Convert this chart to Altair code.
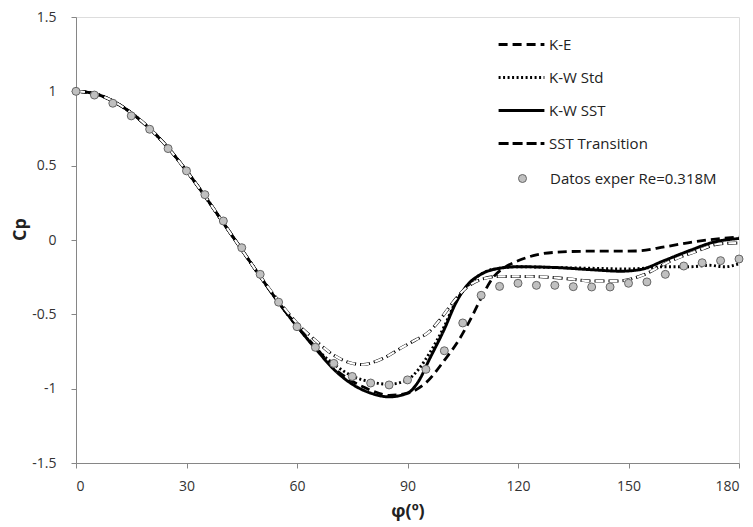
import altair as alt
import pandas as pd

# ---- data ----
exp_phi = list(range(0, 181, 5))
exp_cp = [1.0, 0.975, 0.92, 0.835, 0.745, 0.615, 0.465, 0.305, 0.128, -0.052,
          -0.231, -0.418, -0.583, -0.722, -0.83, -0.918, -0.962, -0.975, -0.941, -0.87,
          -0.745, -0.558, -0.372, -0.312, -0.291, -0.305, -0.305, -0.314, -0.316, -0.316,
          -0.291, -0.282, -0.231, -0.175, -0.153, -0.139, -0.128]

common_phi = [0, 5, 10, 15, 20, 25, 30, 35, 40, 45, 50]
common_cp = [1.0, 0.985, 0.935, 0.855, 0.75, 0.62, 0.465, 0.295, 0.115, -0.065, -0.245]

ke_phi = common_phi + [55, 60, 65, 70, 75, 80, 85, 90, 95, 100, 104, 108, 110, 113, 117,
                       120, 125, 132, 140, 152, 160, 168, 175, 180]
ke_cp = common_cp + [-0.42, -0.58, -0.72, -0.86, -0.95, -1.01, -1.045, -1.03, -0.96, -0.81,
                     -0.67, -0.49, -0.39, -0.26, -0.175, -0.14, -0.1, -0.08, -0.075, -0.074,
                     -0.045, -0.011, 0.01, 0.02]

kwstd_phi = common_phi + [55, 60, 65, 70, 75, 80, 85, 90, 93, 96, 100, 103, 107, 111, 115,
                          120, 130, 140, 150, 160, 167, 172, 176, 180]
kwstd_cp = common_cp + [-0.42, -0.58, -0.725, -0.835, -0.915, -0.955, -0.97, -0.94, -0.87,
                        -0.76, -0.58, -0.42, -0.29, -0.215, -0.19, -0.18, -0.185, -0.19,
                        -0.195, -0.18, -0.18, -0.17, -0.18, -0.16]

kwsst_phi = common_phi + [55, 60, 65, 70, 75, 80, 85, 90, 93, 96, 100, 103, 106, 110, 115,
                          120, 130, 140, 148, 153, 160, 167, 173, 180]
kwsst_cp = common_cp + [-0.42, -0.58, -0.73, -0.87, -0.97, -1.03, -1.055, -1.03, -0.95,
                        -0.8, -0.6, -0.43, -0.31, -0.23, -0.19, -0.18, -0.185, -0.2, -0.21,
                        -0.2, -0.135, -0.067, -0.015, 0.01]

ssttr_phi = common_phi + [55, 60, 65, 70, 75, 78, 81, 85, 88, 92, 96, 99, 102, 106, 110,
                          115, 120, 126, 134, 140, 147, 154, 161, 168, 175, 180]
ssttr_cp = common_cp + [-0.41, -0.56, -0.675, -0.775, -0.83, -0.838, -0.82, -0.775, -0.73,
                        -0.675, -0.615, -0.53, -0.43, -0.32, -0.265, -0.245, -0.245, -0.247,
                        -0.262, -0.276, -0.276, -0.235, -0.146, -0.08, -0.025, -0.02]

series_names = ["K-E", "K-W Std", "K-W SST", "SST Transition"]
exp_name = "Datos exper Re=0.318M"

x_ticks = [0, 30, 60, 90, 120, 150, 180]
y_ticks = [-1.5, -1.0, -0.5, 0.0, 0.5, 1.0, 1.5]

# ---- tables ----
rows = []
for name, ph, cp in [("K-E", ke_phi, ke_cp), ("K-W Std", kwstd_phi, kwstd_cp),
                     ("K-W SST", kwsst_phi, kwsst_cp), ("SST Transition", ssttr_phi, ssttr_cp)]:
    for i, (p, c) in enumerate(zip(ph, cp)):
        rows.append({"serie": name, "phi": p, "cp": c, "ord": i})
lines_df = pd.DataFrame(rows)
sst_df = lines_df[lines_df["serie"] == "SST Transition"]
exp_df = pd.DataFrame({"phi": exp_phi, "cp": exp_cp, "serie": exp_name})

FONT = "Open Sans"

x_enc = alt.X("phi:Q", scale=alt.Scale(domain=[0, 180], nice=False),
              axis=alt.Axis(values=x_ticks, title="φ(º)", grid=False, labelExpr="datum.value",
                            tickSize=5, labelPadding=11, titlePadding=9,
                            labelFont=FONT, labelFontSize=14, labelColor="#333",
                            titleFont=FONT, titleFontSize=18, titleFontWeight="bold",
                            titleColor="#222", domainColor="#868686", tickColor="#868686"))
y_enc = alt.Y("cp:Q", scale=alt.Scale(domain=[-1.5, 1.5], nice=False),
              axis=alt.Axis(values=y_ticks, title="Cp", grid=False, labelExpr="datum.value",
                            tickSize=5, labelPadding=15, titleX=-47, titleY=212,
                            labelFont=FONT, labelFontSize=14, labelColor="#333",
                            titleFont=FONT, titleFontSize=18, titleFontWeight="bold",
                            titleColor="#222", domainColor="#868686", tickColor="#868686"))

lines = alt.Chart(lines_df).mark_line(interpolate="monotone", color="black").encode(
    x=x_enc, y=y_enc, order="ord:Q",
    strokeDash=alt.StrokeDash("serie:N",
        scale=alt.Scale(domain=series_names, range=[[9, 5], [2, 2.5], [1, 0], [10, 4]]),
        legend=alt.Legend(title=None, orient="none", legendX=421, legendY=3,
                          symbolType="stroke", symbolSize=2100, symbolStrokeWidth=3,
                          symbolStrokeColor="black", labelFont=FONT, labelFontSize=15,
                          labelColor="#222", labelOffset=3, rowPadding=-12.5,
                          labelLimit=300)),
    strokeWidth=alt.StrokeWidth("serie:N",
        scale=alt.Scale(domain=series_names, range=[2.8, 3, 2.6, 5]), legend=None),
)

inner = alt.Chart(sst_df).mark_line(interpolate="monotone", color="white", strokeWidth=2.2,
                                     strokeDash=[8, 6], strokeDashOffset=-1).encode(
    x="phi:Q", y="cp:Q", order="ord:Q")

points = alt.Chart(exp_df).mark_point(filled=True, size=64, stroke="#666", strokeWidth=1,
                                      opacity=1).encode(
    x="phi:Q", y="cp:Q",
    fill=alt.Fill("serie:N", scale=alt.Scale(domain=[exp_name], range=["#c0c0c0"]),
                  legend=alt.Legend(title=None, orient="none", legendX=439, legendY=154,
                                    symbolType="circle", symbolSize=64,
                                    symbolStrokeColor="#666", symbolStrokeWidth=1,
                                    symbolFillColor="#c0c0c0", labelFont=FONT,
                                    labelFontSize=15, labelColor="#222", labelOffset=20,
                                    labelLimit=300)),
)

chart = alt.layer(lines, inner, points).properties(
    width=663, height=446,
    padding={"left": 68, "top": 9, "right": 6, "bottom": 60},
    autosize=alt.AutoSizeParams(type="none"),
).configure_view(stroke=None).configure(background="white")

chart.save("out.html", embed_options={"renderer": "svg", "actions": False})
